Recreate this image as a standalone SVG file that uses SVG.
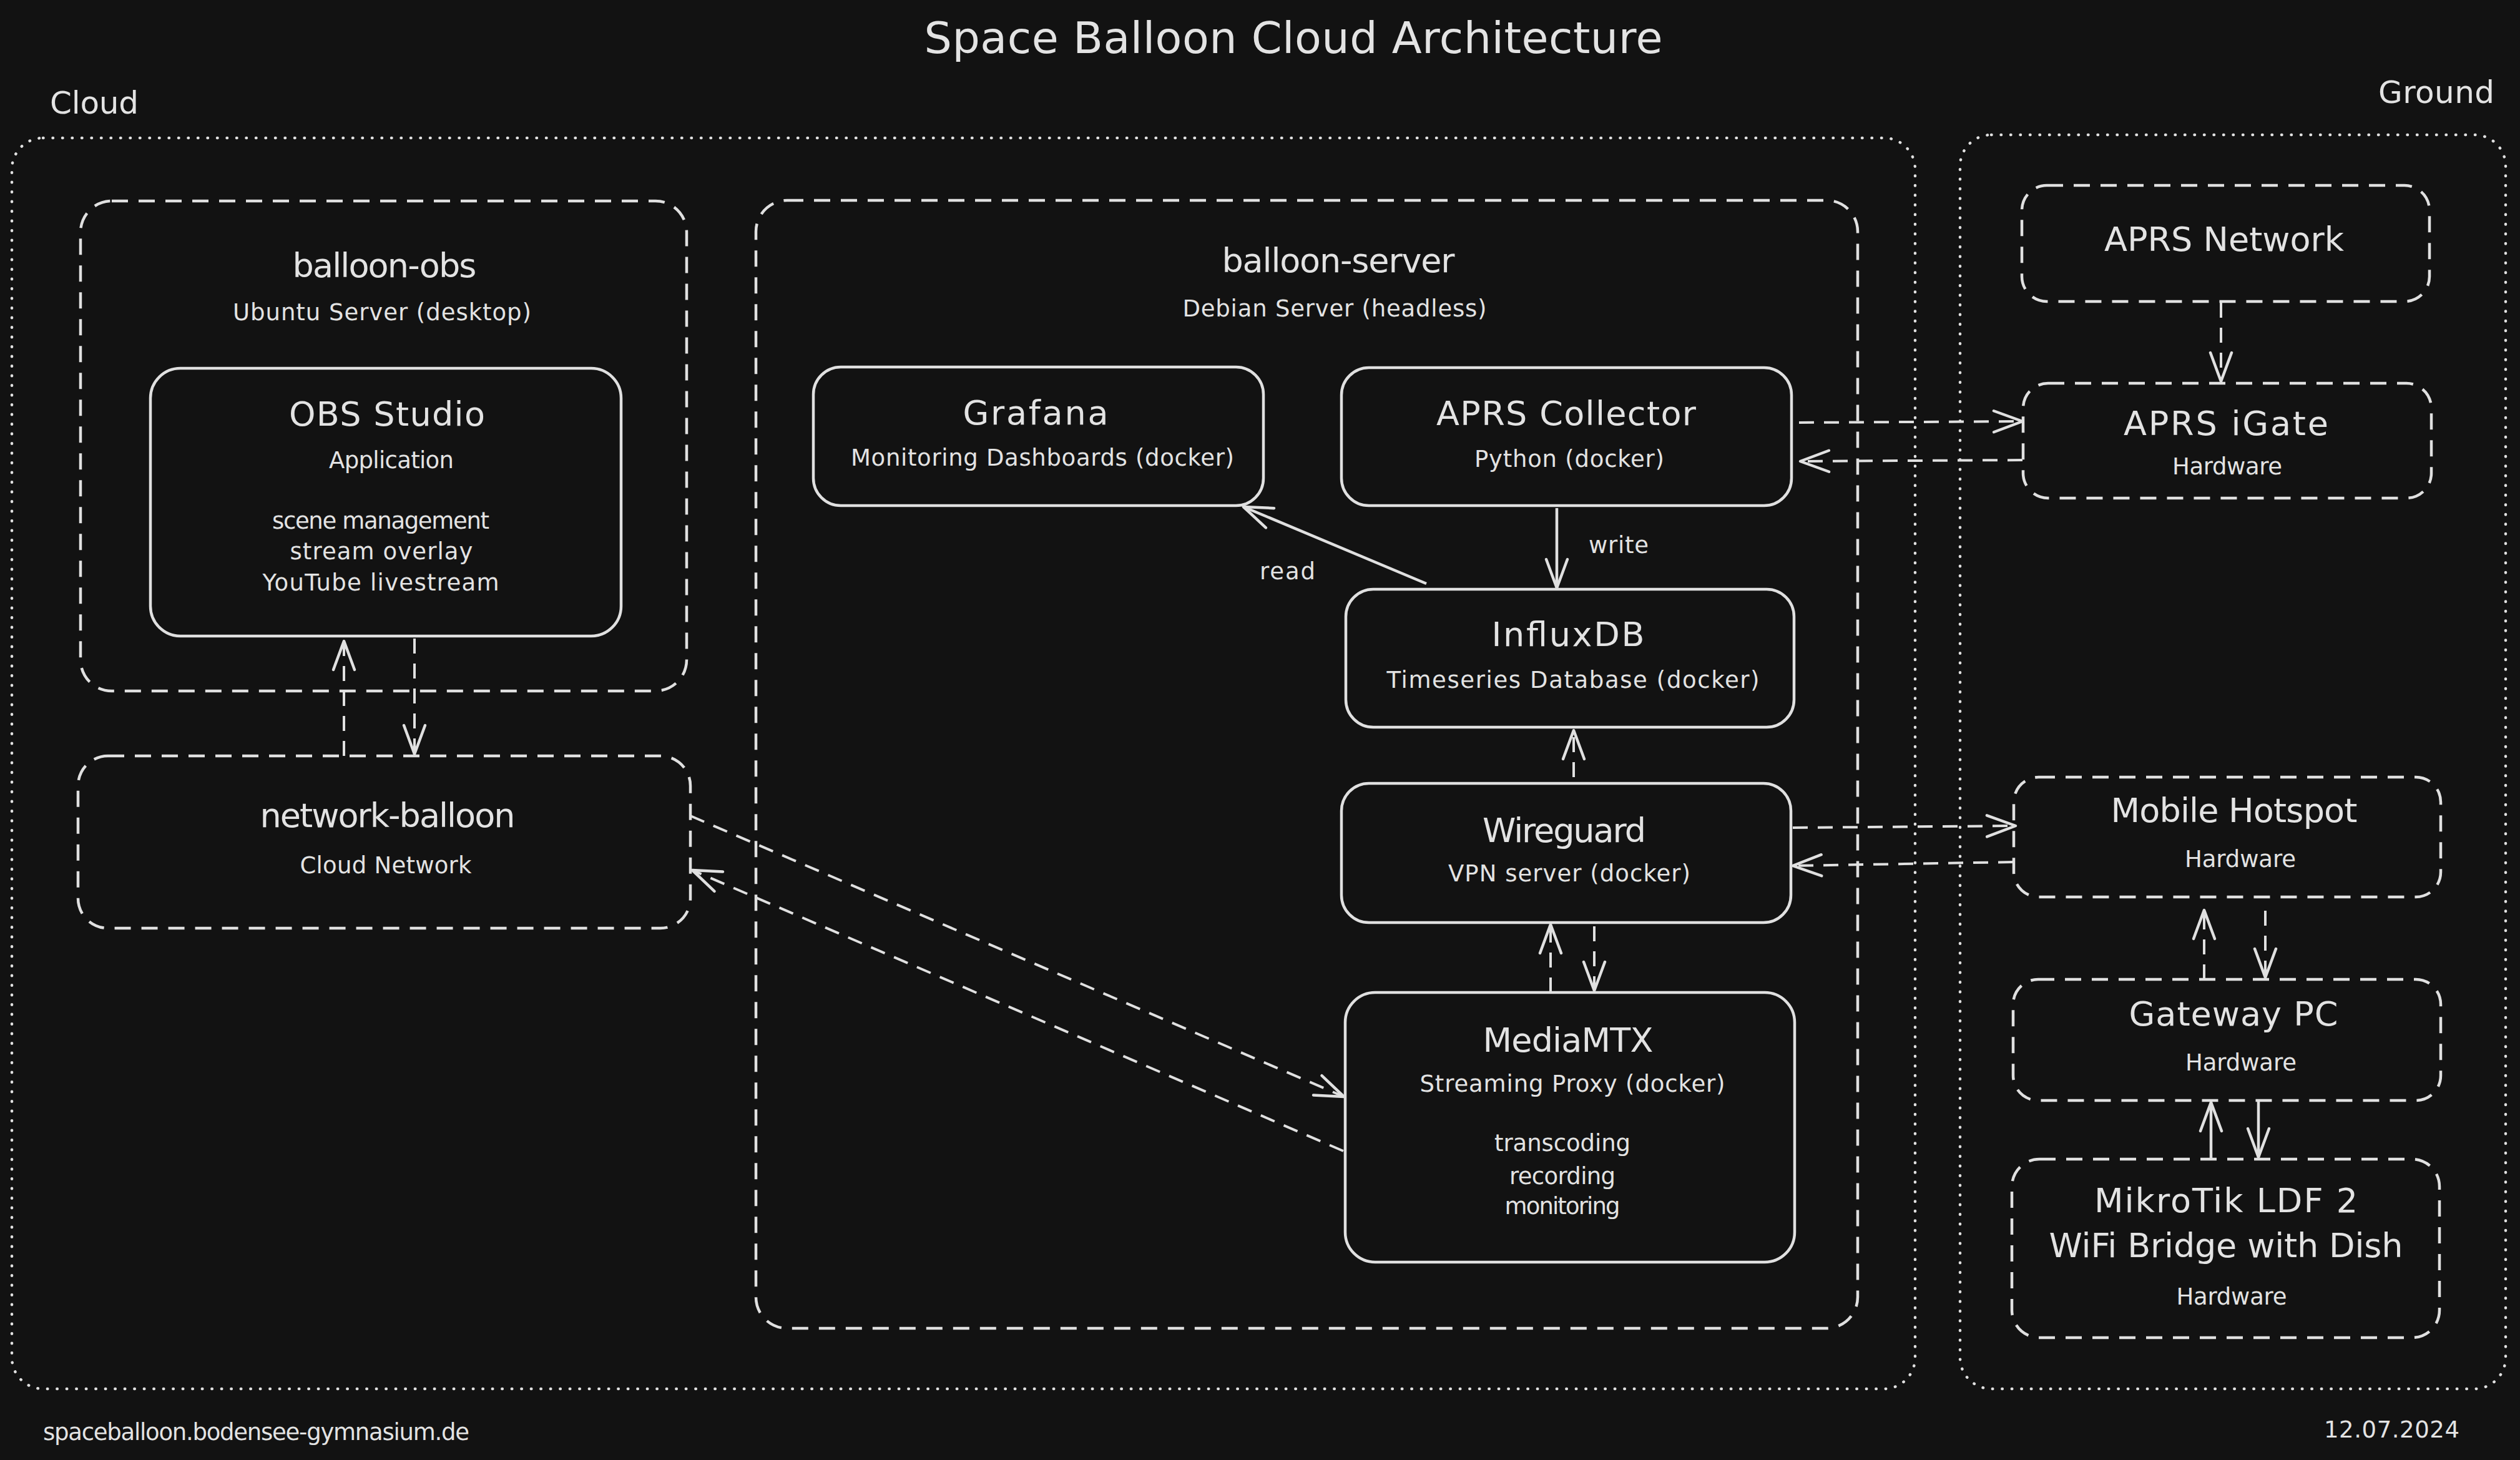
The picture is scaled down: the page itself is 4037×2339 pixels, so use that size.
<svg xmlns="http://www.w3.org/2000/svg" width="4037" height="2339" viewBox="0 0 4037 2339">
<style>
text{font-family:"DejaVu Sans","Liberation Sans",sans-serif;fill:#e3e3e3}
.t{font-size:70px}
.lab{font-size:50px}
.nm{font-size:54px}
.sb{font-size:37px}
.mid{text-anchor:middle}
.box{fill:none;stroke:#e0e0e0;stroke-width:4.5}
.dbox{fill:none;stroke:#e0e0e0;stroke-width:4.5;stroke-dasharray:26 17}
.dot{fill:none;stroke:#e0e0e0;stroke-width:4.5;stroke-dasharray:0.5 15;stroke-linecap:round}
.c{fill:none;stroke:#e0e0e0;stroke-width:4.5;marker-end:url(#ah)}
.cd{fill:none;stroke:#e0e0e0;stroke-width:4;stroke-dasharray:24 16;marker-end:url(#ah)}
</style>
<defs>
<marker id="ah" markerUnits="userSpaceOnUse" orient="auto" refX="0" refY="0" markerWidth="60" markerHeight="60" overflow="visible">
<path d="M-46,-17 L0,0 L-46,17" fill="none" stroke="#e0e0e0" stroke-width="4.5" stroke-linecap="round" stroke-linejoin="round"/>
</marker>
</defs>
<rect width="4037" height="2339" fill="#121212"/>
<text class="t mid" x="2072" y="85" textLength="1183">Space Balloon Cloud Architecture</text>

<g id="cloud">
<rect class="dot" x="19" y="221" width="3049" height="2004" rx="50"/>
<text class="lab" x="80" y="182" textLength="142">Cloud</text>
</g>
<g id="ground">
<rect class="dot" x="3140" y="216" width="874" height="2009" rx="50"/>
<text class="lab" x="3996" y="165" text-anchor="end" textLength="186">Ground</text>
</g>

<g id="balloon-obs">
<rect class="dbox" x="129" y="322" width="971" height="785" rx="50"/>
<text class="nm mid" x="616" y="444" textLength="295">balloon-obs</text>
<text class="sb mid" x="612" y="513" textLength="478">Ubuntu Server (desktop)</text>
</g>
<g id="obs-studio">
<rect class="box" x="241" y="590" width="754" height="429" rx="48"/>
<text class="nm mid" x="620" y="682" textLength="314">OBS Studio</text>
<text class="sb mid" x="627" y="750" textLength="200">Application</text>
<text class="sb mid" x="610" y="847" textLength="348">scene management</text>
<text class="sb mid" x="611" y="896" textLength="293">stream overlay</text>
<text class="sb mid" x="610" y="946" textLength="379">YouTube livestream</text>
</g>
<g id="network-balloon">
<rect class="dbox" x="125" y="1211" width="981" height="276" rx="48"/>
<text class="nm mid" x="621" y="1325" textLength="409">network-balloon</text>
<text class="sb mid" x="618" y="1399" textLength="275">Cloud Network</text>
</g>

<g id="balloon-server">
<rect class="dbox" x="1211" y="321" width="1765" height="1807" rx="50"/>
<text class="nm mid" x="2144" y="436" textLength="373">balloon-server</text>
<text class="sb mid" x="2138" y="507" textLength="487">Debian Server (headless)</text>
</g>
<g id="grafana">
<rect class="box" x="1303" y="588" width="721" height="222" rx="44"/>
<text class="nm mid" x="1659" y="680" textLength="233">Grafana</text>
<text class="sb mid" x="1670" y="746" textLength="614">Monitoring Dashboards (docker)</text>
</g>
<g id="aprs-collector">
<rect class="box" x="2149" y="589" width="721" height="221" rx="44"/>
<text class="nm mid" x="2509" y="681" textLength="416">APRS Collector</text>
<text class="sb mid" x="2514" y="748" textLength="304">Python (docker)</text>
</g>
<g id="influxdb">
<rect class="box" x="2156" y="944" width="718" height="221" rx="44"/>
<text class="nm mid" x="2512" y="1035" textLength="245">InfluxDB</text>
<text class="sb mid" x="2520" y="1102" textLength="597">Timeseries Database (docker)</text>
</g>
<g id="wireguard">
<rect class="box" x="2149" y="1255" width="720" height="223" rx="44"/>
<text class="nm mid" x="2506" y="1349" textLength="262">Wireguard</text>
<text class="sb mid" x="2514" y="1412" textLength="388">VPN server (docker)</text>
</g>
<g id="mediamtx">
<rect class="box" x="2155" y="1590" width="720" height="432" rx="48"/>
<text class="nm mid" x="2512" y="1685" textLength="273">MediaMTX</text>
<text class="sb mid" x="2519" y="1749" textLength="489">Streaming Proxy (docker)</text>
<text class="sb mid" x="2503" y="1844" textLength="218">transcoding</text>
<text class="sb mid" x="2503" y="1897" textLength="170">recording</text>
<text class="sb mid" x="2503" y="1945" textLength="185">monitoring</text>
</g>

<g id="aprs-network">
<rect class="dbox" x="3239" y="297" width="653" height="186" rx="40"/>
<text class="nm mid" x="3563" y="402" textLength="384">APRS Network</text>
</g>
<g id="aprs-igate">
<rect class="dbox" x="3241" y="614" width="654" height="184" rx="40"/>
<text class="nm mid" x="3566" y="697" textLength="328">APRS iGate</text>
<text class="sb mid" x="3568" y="760" textLength="176">Hardware</text>
</g>
<g id="mobile-hotspot">
<rect class="dbox" x="3226" y="1245" width="684" height="192" rx="40"/>
<text class="nm mid" x="3579" y="1317" textLength="395">Mobile Hotspot</text>
<text class="sb mid" x="3589" y="1389" textLength="178">Hardware</text>
</g>
<g id="gateway-pc">
<rect class="dbox" x="3225" y="1569" width="685" height="194" rx="40"/>
<text class="nm mid" x="3578" y="1643" textLength="335">Gateway PC</text>
<text class="sb mid" x="3590" y="1715" textLength="178">Hardware</text>
</g>
<g id="mikrotik">
<rect class="dbox" x="3223" y="1857" width="685" height="286" rx="44"/>
<text class="nm mid" x="3566" y="1942" textLength="422">MikroTik LDF 2</text>
<text class="nm mid" x="3566" y="2014" textLength="567">WiFi Bridge with Dish</text>
<text class="sb mid" x="3575" y="2090" textLength="177">Hardware</text>
</g>

<g id="connectors">
<path class="cd" d="M551,1211 L551,1027"/>
<path class="cd" d="M664,1023 L664,1208"/>
<path class="cd" d="M1106,1307 L2153,1757"/>
<path class="cd" d="M2152,1844 L1109,1394"/>
<path class="c" d="M2494,814 L2494,942"/>
<text class="sb" x="2545" y="886" textLength="96">write</text>
<path class="c" d="M2285,935 L1992,812"/>
<text class="sb" x="2018" y="928" textLength="89">read</text>
<path class="cd" d="M2882,677 L3240,675"/>
<path class="cd" d="M3240,737 L2884,739"/>
<path class="cd" d="M3558,485 L3558,611"/>
<path class="cd" d="M2521,1245 L2521,1170"/>
<path class="cd" d="M2872,1326 L3229,1323"/>
<path class="cd" d="M3225,1381 L2872,1387"/>
<path class="cd" d="M2484,1590 L2484,1481"/>
<path class="cd" d="M2554,1484 L2554,1587"/>
<path class="cd" d="M3531,1569 L3531,1458"/>
<path class="cd" d="M3629,1459 L3629,1566"/>
<path class="c" d="M3542,1859 L3542,1766"/>
<path class="c" d="M3618,1764 L3618,1854"/>
</g>

<text class="sb" x="69" y="2307" textLength="683">spaceballoon.bodensee-gymnasium.de</text>
<text class="sb" x="3723" y="2303" textLength="217">12.07.2024</text>
</svg>
